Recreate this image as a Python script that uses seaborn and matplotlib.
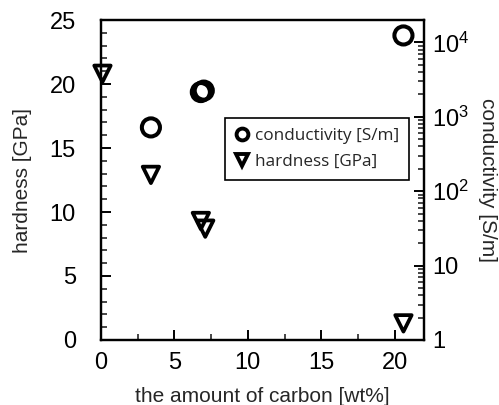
import matplotlib
matplotlib.use("Agg")
import matplotlib.pyplot as plt
from matplotlib.lines import Line2D
import matplotlib.ticker as mticker
import seaborn as sns
import pandas as pd

# data
carbon_cond = [3.4, 6.8, 7.0, 20.6]
conductivity = [720, 2150, 2250, 12400]
carbon_hard = [0.1, 3.4, 6.8, 7.1, 20.6]
hardness = [20.8, 12.9, 9.3, 8.7, 1.3]

x_ticks = [0, 5, 10, 15, 20]
left_ticks = [0, 5, 10, 15, 20, 25]
right_ticks = [1, 10, 100, 1000, 10000]
right_tick_labels = ["1", "10", "$10^2$", "$10^3$", "$10^4$"]

sns.set_theme(style="white")
plt.rcParams["font.family"] = ["Liberation Sans", "DejaVu Sans"]
plt.rcParams["mathtext.fontset"] = "custom"
plt.rcParams["mathtext.rm"] = "Liberation Sans"
plt.rcParams["mathtext.it"] = "Liberation Sans"

fig = plt.figure(figsize=(4.99, 4.05), dpi=100)
ax = fig.add_axes([0.2024, 0.1605, 0.8497 - 0.2024, 0.9506 - 0.1605])
ax2 = ax.twinx()

df_h = pd.DataFrame({"carbon": carbon_hard, "hardness": hardness})
df_c = pd.DataFrame({"carbon": carbon_cond, "conductivity": conductivity})

sns.scatterplot(data=df_h, x="carbon", y="hardness", ax=ax, marker="v", s=140,
                facecolor="none", edgecolor="black", linewidth=2.7, zorder=5,
                clip_on=False, legend=False)
sns.scatterplot(data=df_c, x="carbon", y="conductivity", ax=ax2, marker="o", s=170,
                facecolor="none", edgecolor="black", linewidth=2.9, zorder=5,
                clip_on=False, legend=False)

ax.set_xlim(0, 22)
ax.set_ylim(0, 25)
ax2.set_yscale("log")
ax2.set_ylim(1, 20000)

ax.set_xticks(x_ticks)
ax.set_yticks(left_ticks)
ax.xaxis.set_minor_locator(mticker.MultipleLocator(2.5))
ax.yaxis.set_minor_locator(mticker.MultipleLocator(1))
ax2.set_yticks(right_ticks)
ax2.set_yticklabels(right_tick_labels)
ax2.yaxis.set_minor_locator(mticker.LogLocator(base=10, subs=range(2, 10), numticks=20))
ax2.yaxis.set_minor_formatter(mticker.NullFormatter())

for a in (ax, ax2):
    for sp in a.spines.values():
        sp.set_linewidth(1.6)
        sp.set_color("black")

ax.tick_params(axis="both", which="major", direction="in", length=7, width=1.4,
               labelsize=17, colors="black")
ax.tick_params(axis="both", which="minor", direction="in", length=4, width=1.2)
ax.tick_params(axis="y", which="major", pad=18, left=True)
ax.tick_params(axis="y", which="minor", left=True)
ax.tick_params(axis="x", which="major", pad=9, bottom=True)
ax.tick_params(axis="x", which="minor", bottom=True)
ax2.tick_params(axis="y", which="major", direction="in", length=7, width=1.4,
                labelsize=17, pad=6, right=True, colors="black")
ax2.tick_params(axis="y", which="minor", direction="in", length=4, width=1.2, right=True)

ax.set_xlabel("the amount of carbon [wt%]", fontsize=15, labelpad=9)
ax.set_ylabel("hardness [GPa]", fontsize=15, labelpad=13)
ax2.set_ylabel("conductivity [S/m]", fontsize=15, rotation=270, labelpad=20)

handles = [
    Line2D([], [], marker="o", linestyle="none", markersize=8.5, markerfacecolor="none",
           markeredgecolor="black", markeredgewidth=2.8, label="conductivity [S/m]"),
    Line2D([], [], marker="v", linestyle="none", markersize=8.5, markerfacecolor="none",
           markeredgecolor="black", markeredgewidth=2.8, label="hardness [GPa]"),
]
leg = ax2.legend(handles=handles, loc="upper left", bbox_to_anchor=(0.383, 0.694),
                 frameon=True, fancybox=False, edgecolor="black", framealpha=1,
                 prop={"family": "Open Sans", "size": 12.3}, handletextpad=0.35,
                 handlelength=0.8, borderpad=0.6, labelspacing=0.55, borderaxespad=0)
leg.get_frame().set_linewidth(1.2)

fig.savefig("out.png", dpi=100)
